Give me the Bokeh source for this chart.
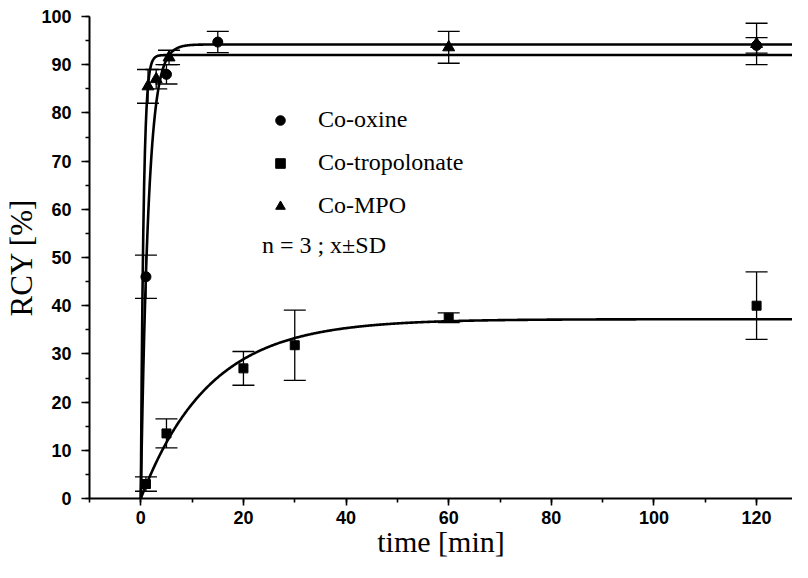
import numpy as np
from bokeh.plotting import figure
from bokeh.models import (ColumnDataSource, Whisker, TeeHead, Range1d, SingleIntervalTicker,
                          Legend, LegendItem, Label)
from bokeh.embed import file_html
from bokeh.resources import INLINE

# ---- data ----
oxine_t = [1, 5, 15, 120]
oxine_y = [46.0, 88.0, 94.7, 94.0]
oxine_sd = [4.5, 2.0, 2.2, 1.6]

trop_t = [1, 5, 20, 30, 60, 120]
trop_y = [3.0, 13.5, 27.0, 31.8, 37.5, 40.0]
trop_sd = [1.5, 3.0, 3.5, 7.3, 1.0, 7.0]

mpo_t = [1.4, 3, 5.5, 60, 120]
mpo_y = [85.5, 87.0, 91.5, 93.6, 94.3]
mpo_sd = [3.5, 2.0, 1.5, 3.3, 4.3]

# fitted saturation curves y = A * (1 - exp(-k t))
fit_oxine = (94.2, 0.68)
fit_trop = (37.2, 0.075)
fit_mpo = (92.0, 1.9)

x_ticks_interval = 20
y_ticks_interval = 10

FONT_SANS = "Liberation Sans"
FONT_SERIF = "Liberation Serif"

p = figure(width=792, height=562, output_backend="svg", toolbar_location=None,
           x_range=Range1d(-10, 127), y_range=Range1d(0, 100),
           min_border_left=89, min_border_right=0, min_border_top=16, min_border_bottom=64)
p.outline_line_color = None
p.xgrid.visible = False
p.ygrid.visible = False
p.background_fill_color = "white"

# fitted curves
tt = np.linspace(0, 127, 800)
for A, k in (fit_oxine, fit_trop, fit_mpo):
    p.line(tt, A * (1 - np.exp(-k * tt)), line_color="black", line_width=2.6)

def add_series(t, y, sd, marker, size):
    t = np.array(t, dtype=float); y = np.array(y); sd = np.array(sd)
    src = ColumnDataSource(dict(t=t, y=y, lo=y - sd, hi=y + sd))
    w = Whisker(source=src, base="t", lower="lo", upper="hi", line_color="black", line_width=1.3,
                upper_head=TeeHead(size=22, line_color="black", line_width=1.3),
                lower_head=TeeHead(size=22, line_color="black", line_width=1.3))
    p.add_layout(w)
    return p.scatter("t", "y", source=src, marker=marker, size=size,
                     fill_color="black", line_color="black")

r_ox = add_series(oxine_t, oxine_y, oxine_sd, "circle", 10)
r_tr = add_series(trop_t, trop_y, trop_sd, "square", 9)
r_mp = add_series(mpo_t, mpo_y, mpo_sd, "triangle", 12)

legend = Legend(items=[LegendItem(label="Co-oxine", renderers=[r_ox]),
                       LegendItem(label="Co-tropolonate", renderers=[r_tr]),
                       LegendItem(label="Co-MPO", renderers=[r_mp])],
                location=(179, 279), orientation="vertical",
                background_fill_alpha=0, border_line_alpha=0,
                padding=0, margin=0, spacing=16, glyph_width=24, glyph_height=24,
                label_standoff=26, label_text_font=FONT_SERIF, label_text_font_size="24px",
                label_text_color="black")
p.add_layout(legend)

p.add_layout(Label(x=23.6, y=52.5, text="n = 3 ; x\u00b1SD", text_font=FONT_SERIF,
                   text_font_size="24px", text_baseline="middle", text_color="black"))

# axes
p.xaxis.ticker = SingleIntervalTicker(interval=x_ticks_interval, num_minor_ticks=2)
p.yaxis.ticker = SingleIntervalTicker(interval=y_ticks_interval, num_minor_ticks=2)
for ax in (p.xaxis[0], p.yaxis[0]):
    ax.axis_line_width = 2
    ax.axis_line_color = "black"
    ax.major_tick_line_width = 1.6
    ax.minor_tick_line_width = 1.6
    ax.major_tick_line_color = "black"
    ax.minor_tick_line_color = "black"
    ax.major_tick_in = 0
    ax.minor_tick_out = 4
    ax.minor_tick_in = 0
    ax.major_label_text_font = FONT_SANS
    ax.major_label_text_font_size = "18px"
    ax.major_label_text_font_style = "bold"
    ax.major_label_text_color = "black"
    ax.axis_label_text_font = FONT_SERIF
    ax.axis_label_text_font_style = "normal"
    ax.axis_label_text_color = "black"

p.xaxis.major_tick_out = 7
p.xaxis.axis_label = "time [min]"
p.xaxis.axis_label_text_font_size = "30px"
p.xaxis.major_label_standoff = 5
p.xaxis.axis_label_standoff = -2

p.yaxis.major_tick_out = 8
p.yaxis.axis_label = "RCY [%]"
p.yaxis.axis_label_text_font_size = "31px"
p.yaxis.major_label_standoff = 10
p.yaxis.axis_label_standoff = -1

open("out.html", "w").write(file_html(p, INLINE))
